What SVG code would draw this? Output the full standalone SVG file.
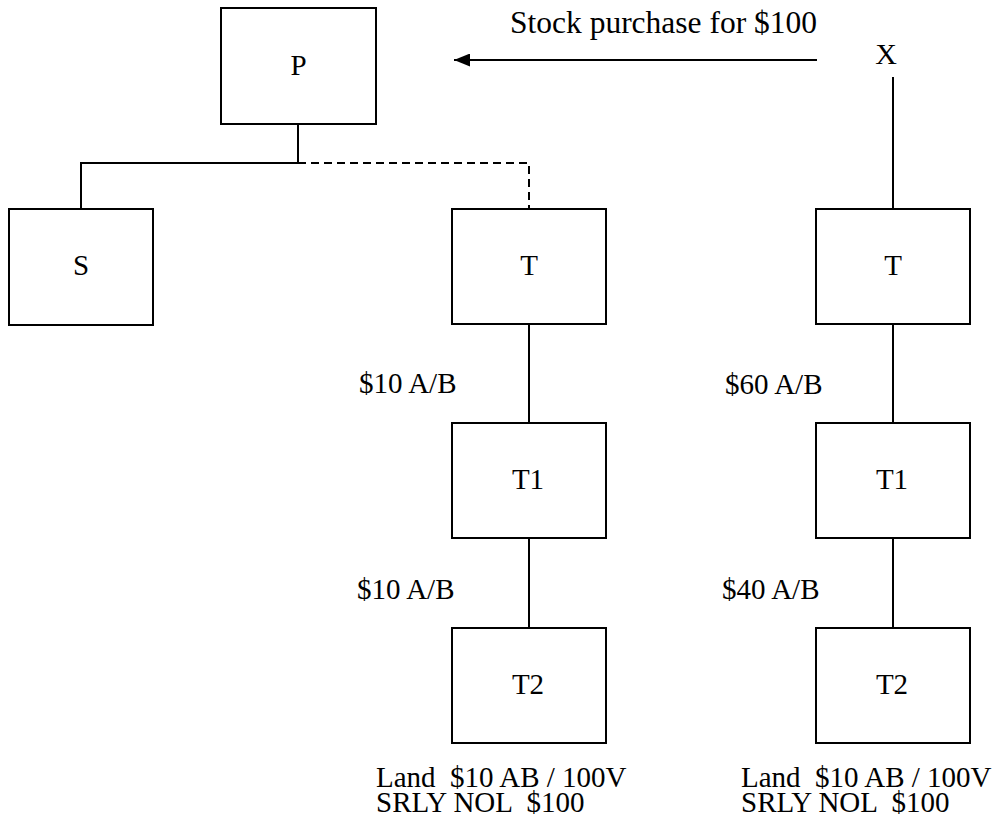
<svg xmlns="http://www.w3.org/2000/svg" width="996" height="825" viewBox="0 0 996 825">
  <style>
    .box { fill: #fff; stroke: #000; stroke-width: 2; }
    .ln { fill: none; stroke: #000; stroke-width: 2; }
    .dash { fill: none; stroke: #000; stroke-width: 2; stroke-dasharray: 8 5; }
    text { font-family: "Liberation Serif", "Times New Roman", serif; fill: #000; font-size: 29px; }
    .c { text-anchor: middle; }
  </style>
  <defs>
    <marker id="arrow" markerUnits="userSpaceOnUse" markerWidth="16" markerHeight="13" refX="16" refY="6.5" orient="auto">
      <path d="M0,0 L16,6.5 L0,13 Z" fill="#000"/>
    </marker>
  </defs>
  <rect width="996" height="825" fill="#fff"/>

  <!-- connectors -->
  <g id="connectors">
    <line class="ln" x1="817" y1="60" x2="454" y2="60" marker-end="url(#arrow)"/>
    <polyline class="ln" points="298,124 298,163"/>
    <polyline class="ln" points="298,163 81,163 81,209"/>
    <polyline class="dash" points="298,163 529,163 529,209"/>
    <line class="ln" x1="529" y1="324" x2="529" y2="423"/>
    <line class="ln" x1="529" y1="538" x2="529" y2="628"/>
    <line class="ln" x1="893" y1="77" x2="893" y2="209"/>
    <line class="ln" x1="893" y1="324" x2="893" y2="423"/>
    <line class="ln" x1="893" y1="538" x2="893" y2="628"/>
  </g>

  <!-- labels -->
  <g id="labels">
    <text x="510" y="33" style="font-size:31.5px">Stock purchase for $100</text>
    <text x="359" y="393">$10 A/B</text>
    <text x="357" y="599">$10 A/B</text>
    <text x="725" y="394">$60 A/B</text>
    <text x="722" y="599">$40 A/B</text>
    <text x="376" y="787" xml:space="preserve">Land  $10 AB / 100V</text>
    <text x="376" y="812" xml:space="preserve">SRLY NOL  $100</text>
    <text x="741" y="787" xml:space="preserve">Land  $10 AB / 100V</text>
    <text x="741" y="812" xml:space="preserve">SRLY NOL  $100</text>
  </g>

  <!-- nodes -->
  <g id="node-X"><text class="c" x="886" y="64" style="font-size:30px">X</text></g>
  <g id="node-P"><rect class="box" x="221" y="8" width="155" height="116"/><text class="c" x="298.5" y="75">P</text></g>
  <g id="node-S"><rect class="box" x="9" y="209" width="144" height="116"/><text class="c" x="81" y="275">S</text></g>
  <g id="node-T-left"><rect class="box" x="452" y="209" width="154" height="115"/><text class="c" x="529" y="275">T</text></g>
  <g id="node-T1-left"><rect class="box" x="452" y="423" width="154" height="115"/><text class="c" x="528" y="489">T1</text></g>
  <g id="node-T2-left"><rect class="box" x="452" y="628" width="154" height="115"/><text class="c" x="528" y="694">T2</text></g>
  <g id="node-T-right"><rect class="box" x="816" y="209" width="154" height="115"/><text class="c" x="893" y="275">T</text></g>
  <g id="node-T1-right"><rect class="box" x="816" y="423" width="154" height="115"/><text class="c" x="892" y="489">T1</text></g>
  <g id="node-T2-right"><rect class="box" x="816" y="628" width="154" height="115"/><text class="c" x="892" y="694">T2</text></g>
</svg>
